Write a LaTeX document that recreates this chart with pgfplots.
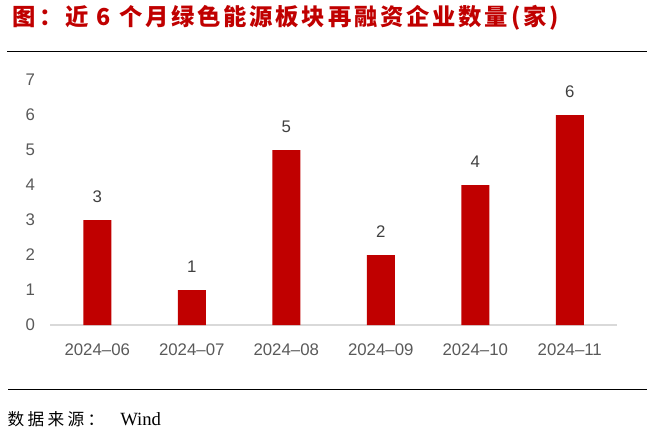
\documentclass[border=0pt]{standalone}
\usepackage{fontspec}
\setmainfont{Liberation Sans}
\newfontfamily\cjk[LetterSpace=20]{Noto Sans CJK SC}
\newfontfamily\cjktitle[LetterSpace=12]{Noto Sans CJK SC}
\newfontfamily\serifw{Liberation Serif}
\usepackage{pgfplots}
\pgfplotsset{compat=1.18}
\definecolor{barred}{HTML}{C00000}
\definecolor{axisgray}{HTML}{D9D9D9}
\definecolor{ticgray}{HTML}{595959}
\definecolor{labgray}{HTML}{404040}
\begin{document}
\begin{tikzpicture}
\path[use as bounding box] (0,0) rectangle (491.25pt,-327.75pt);
\node[anchor=west, inner sep=0pt, text=barred, font=\fontsize{17.5}{20}\cjktitle\bfseries] at (9.5pt,-13.5pt) {图：近 6 个月绿色能源板块再融资企业数量(家)};
\draw[line width=0.75pt] (5.25pt,-38.25pt) -- (485.25pt,-38.25pt);
\draw[line width=0.75pt] (6pt,-291.75pt) -- (485.25pt,-291.75pt);
\node[anchor=west, inner sep=0pt, font=\fontsize{12.5}{14}\cjk] at (5.5pt,-314.6pt) {数据来源：};
\node[anchor=west, inner sep=0pt, font=\fontsize{14}{16}\serifw] at (90pt,-314.6pt) {Wind};
\begin{axis}[
  at={(37.5pt,-243.75pt)}, anchor=south west,
  scale only axis, width=425.25pt, height=183.75pt,
  xmin=-0.5, xmax=5.5, ymin=0, ymax=7,
  enlarge x limits=false, enlarge y limits=false,
  ytick={0,1,2,3,4,5,6,7},
  xtick={0,1,2,3,4,5},
  xticklabels={2024–06,2024–07,2024–08,2024–09,2024–10,2024–11},
  ybar, bar width=21pt,
  axis x line*=bottom, axis y line*=left,
  y axis line style={draw=none},
  x axis line style={draw=axisgray, line width=1.3pt},
  major tick length=0pt,
  /pgf/number format/assume math mode=true,
  ticklabel style={font=\fontsize{12.6}{14}\selectfont, text=ticgray},
  yticklabel style={inner sep=0pt, anchor=east, xshift=-11pt},
  xticklabel style={inner sep=0pt, anchor=north, yshift=-14pt},
  nodes near coords,
  nodes near coords style={font=\fontsize{12.6}{14}\selectfont, text=labgray, inner sep=0pt, anchor=south, yshift=13pt},
  clip=false,
]
\addplot[fill=barred, draw=none] coordinates {(0,3) (1,1) (2,5) (3,2) (4,4) (5,6)};
\end{axis}
\end{tikzpicture}
\end{document}
